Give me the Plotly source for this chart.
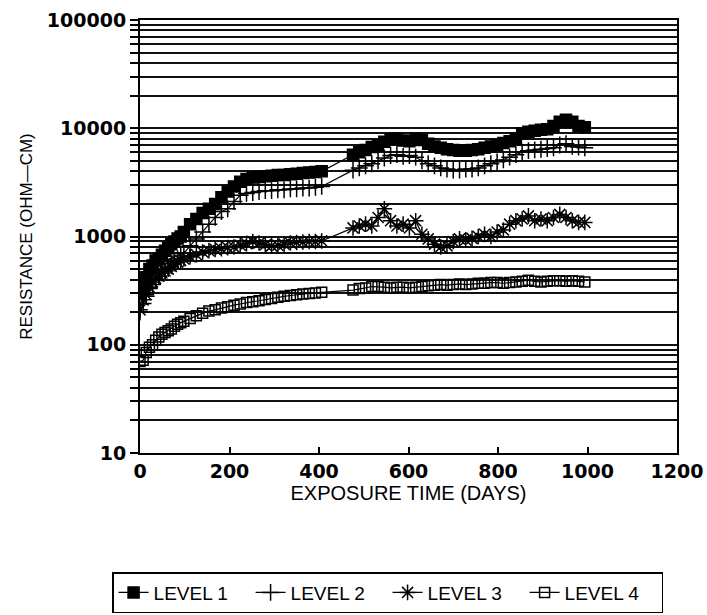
import plotly.graph_objects as go

days = [0, 7, 14, 21, 28, 35, 42, 49, 56, 63, 70, 77, 84, 91, 98, 112, 126, 140, 154, 168,
        182, 196, 210, 224, 238, 252, 266, 280, 294, 308, 322, 336, 350, 364, 378, 392, 406,
        476, 490, 504, 518, 532, 546, 560, 574, 588, 602, 616, 630, 644, 658, 672, 686, 700,
        714, 728, 742, 756, 770, 784, 798, 812, 826, 840, 854, 868, 882, 896, 910, 924, 938,
        952, 966, 980, 994]

level1 = [300, 330, 420, 500, 540, 600, 620, 680, 740, 780, 850, 900, 960, 1000, 1100, 1300,
          1450, 1650, 1800, 2000, 2300, 2600, 2900, 3200, 3400, 3500, 3550, 3600, 3650, 3700,
          3700, 3750, 3800, 3850, 3900, 3950, 4000,
          5700, 6000, 6300, 6700, 7000, 7500, 7900, 8000, 7700, 7600, 8000, 7800, 7200, 6800,
          6600, 6400, 6300, 6200, 6200, 6300, 6400, 6600, 6800, 7000, 7300, 7600, 8000, 9000,
          9300, 9500, 9700, 9800, 10500, 11500, 12000, 11500, 10500, 10200]

level2 = [200, 240, 280, 330, 360, 400, 430, 460, 480, 520, 560, 580, 620, 660, 700, 820, 950,
          1100, 1300, 1500, 1700, 1800, 2100, 2400, 2500, 2550, 2600, 2650, 2650, 2700, 2700,
          2750, 2750, 2800, 2800, 2850, 2900,
          4100, 4300, 4500, 4700, 5000, 5300, 5600, 5700, 5500, 5600, 5400, 5000, 4700, 4500,
          4300, 4200, 4100, 4100, 4200, 4200, 4300, 4500, 4700, 4900, 5100, 5400, 5700, 6000,
          6200, 6300, 6400, 6500, 6600, 7000, 7200, 6800, 6700, 6600]

level3 = [210, 260, 290, 340, 380, 410, 430, 460, 480, 500, 530, 560, 580, 600, 620, 650, 680,
          720, 740, 760, 770, 790, 800, 830, 860, 900, 870, 840, 820, 830, 850, 870, 880, 890,
          900, 900, 910,
          1200, 1250, 1300, 1250, 1500, 1800, 1400, 1250, 1300, 1200, 1400, 1050, 950, 850,
          800, 820, 900, 950, 930, 960, 1000, 1050, 1000, 1100, 1150, 1300, 1400, 1450, 1550,
          1400, 1450, 1400, 1500, 1600, 1500, 1400, 1350, 1350]

level4 = [70, 72, 85, 95, 100, 110, 118, 125, 130, 135, 140, 148, 155, 160, 165, 175, 185, 195,
          205, 210, 218, 225, 232, 238, 245, 250, 255, 262, 268, 275, 280, 285, 290, 295, 298,
          300, 305,
          320, 330, 335, 345, 345, 340, 335, 340, 340, 335, 340, 345, 350, 355, 360, 355, 360,
          365, 360, 365, 370, 370, 375, 375, 370, 375, 380, 385, 395, 385, 380, 385, 390, 390,
          385, 390, 385, 380]

series_names = ["LEVEL 1", "LEVEL 2", "LEVEL 3", "LEVEL 4"]
series_values = [level1, level2, level3, level4]
series_symbols = ["square", "cross-thin-open", "asterisk-open", "square-open"]
series_sizes = [11, 12, 13, 10]

y_tick_vals = [m * 10 ** e for e in range(1, 5) for m in range(1, 10)] + [100000]
y_tick_text = [str(v) if str(v).startswith("1") and set(str(v)[1:]) <= {"0"} else "" for v in y_tick_vals]
x_tick_vals = [0, 200, 400, 600, 800, 1000, 1200]

label_font = "Liberation Sans, Arial, sans-serif"
tickfont = dict(family="DejaVu Sans, Verdana, sans-serif", size=19, color="black", weight="bold")

fig = go.Figure()
for name, vals, sym, sz in zip(series_names, series_values, series_symbols, series_sizes):
    fig.add_trace(go.Scatter(
        x=days, y=vals, name=name, mode="lines+markers",
        line=dict(color="black", width=1.2),
        marker=dict(symbol=sym, size=sz, color="black",
                    line=dict(color="black", width=1.5)),
    ))

fig.update_layout(
    width=707, height=615,
    margin=dict(l=140, r=30, t=20, b=162, autoexpand=False),
    paper_bgcolor="white", plot_bgcolor="white",
    showlegend=True,
    legend=dict(
        orientation="h", xref="paper", yref="paper",
        x=-0.052, xanchor="left", y=-0.275, yanchor="top",
        bordercolor="black", borderwidth=1.5,
        font=dict(family=label_font, size=19, color="black"),
        itemwidth=30, entrywidth=92, tracegroupgap=0,
    ),
)

fig.update_xaxes(
    range=[0, 1200], tickvals=x_tick_vals, ticks="inside", ticklen=6,
    tickcolor="black", tickwidth=1.5,
    showline=True, linecolor="black", linewidth=2, mirror=True,
    showgrid=False, zeroline=False, tickfont=tickfont,
    title=dict(text="EXPOSURE TIME (DAYS)", font=dict(family=label_font, size=20, color="black"),
               standoff=4),
)
fig.update_yaxes(
    type="log", range=[1, 5], tickvals=y_tick_vals, ticktext=y_tick_text,
    ticks="outside", ticklen=8, tickcolor="black", tickwidth=1.5,
    showline=True, linecolor="black", linewidth=2, mirror=True,
    showgrid=True, gridcolor="#111111", gridwidth=1.6, zeroline=False,
    tickfont=tickfont,
    title=dict(text="RESISTANCE (OHM—CM)", font=dict(family=label_font, size=17, color="black"),
               standoff=10),
)

fig.write_html("out.html")
